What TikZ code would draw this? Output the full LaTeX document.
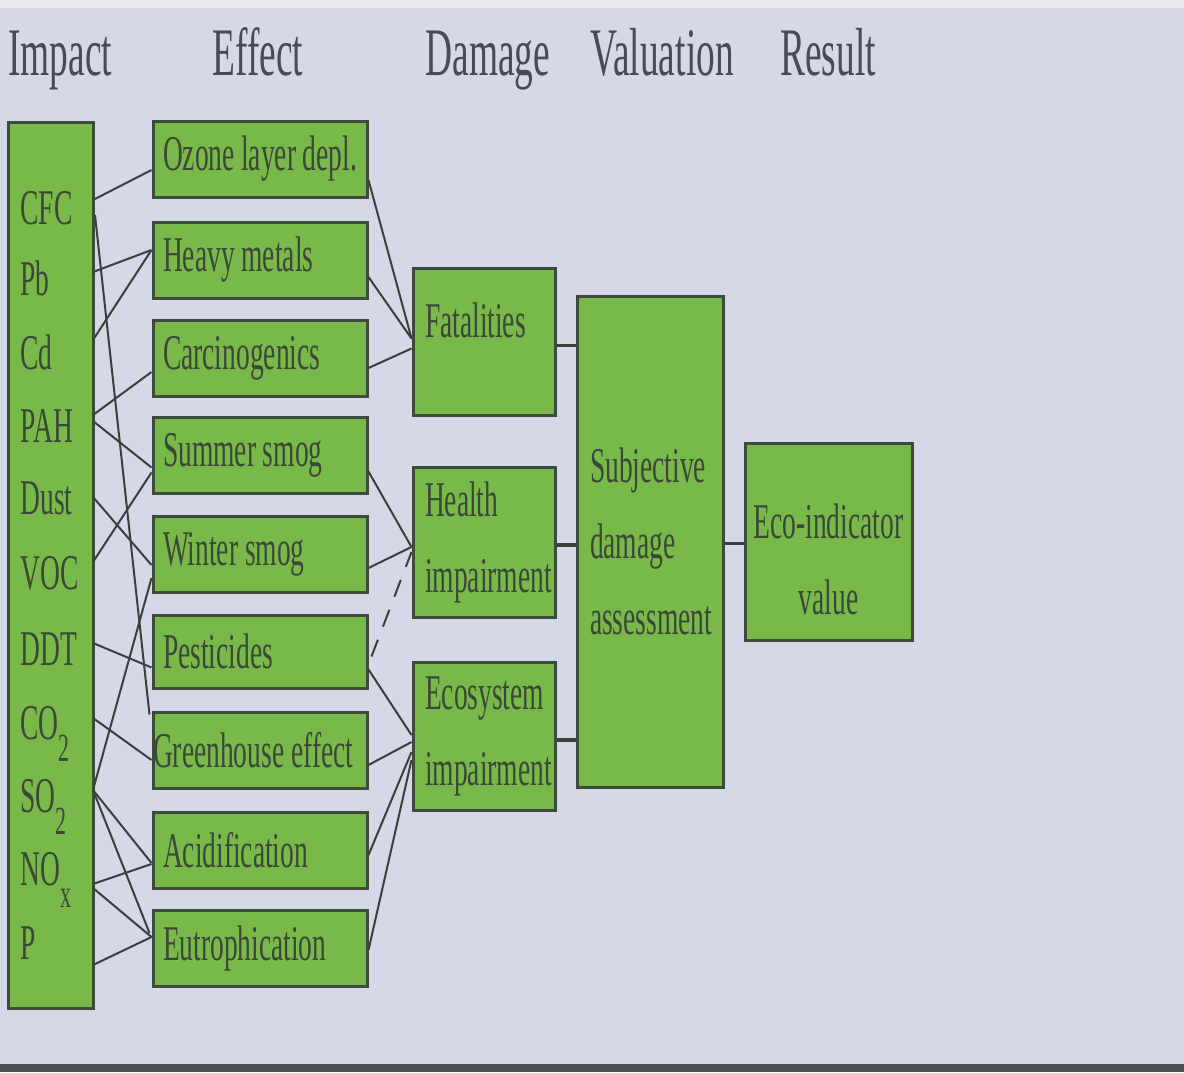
\documentclass[tikz,border=0pt]{standalone}
\usepackage{fontspec}
\setmainfont{Liberation Serif}[FakeStretch=0.55]
\usetikzlibrary{calc}
\definecolor{bg}{HTML}{D4D8E7}
\definecolor{topbg}{HTML}{E8EAF0}
\definecolor{boxfill}{HTML}{79B94A}
\definecolor{boxline}{HTML}{3E4A3B}
\definecolor{txt}{HTML}{3B4837}
\definecolor{ttl}{HTML}{474C52}
\definecolor{ln}{HTML}{3A403C}
\definecolor{band}{HTML}{4B504D}
\newcommand{\sbx}[1]{\raisebox{-11pt}{\fontsize{20}{20}\selectfont #1}}
\begin{document}
\begin{tikzpicture}[x=0.5pt,y=-0.5pt,
  box/.style={draw=boxline, fill=boxfill, line width=1.5pt, text=txt, inner sep=0pt,
    execute at begin node={\spaceskip=3.4pt plus 1pt minus 0.5pt\relax}},
  eff/.style={box, minimum height=38pt, text width=97pt, inner xsep=5pt, align=flush left,
    font=\fontsize{25}{30}\selectfont},
  dmg/.style={box, text width=59pt, inner xsep=6pt, align=flush left,
    font=\fontsize{25}{38}\selectfont},
  ttlst/.style={anchor=base west, text=ttl, inner sep=0pt, font=\fontsize{34}{40}\selectfont},
  imp/.style={anchor=base west, text=txt, inner sep=0pt, font=\fontsize{25}{30}\selectfont},
  conn/.style={draw=ln, line width=1pt},
  thick conn/.style={draw=ln, line width=1.8pt}
]
\path[use as bounding box] (0,0) rectangle (1184,1072);
\fill[bg] (0,0) rectangle (1184,1072);
\fill[topbg] (0,0) rectangle (1184,8);
\fill[band] (0,1064) rectangle (1184,1072);

% titles
\node[ttlst] (t1) at (8,75) {Impact};
\node[ttlst] (t2) at (212,75) {Effect};
\node[ttlst] (t3) at (425,75) {Damage};
\node[ttlst] (t4) at (590,75) {Valuation};
\node[ttlst] (t5) at (780,75) {Result};

% impact box
\node[box, minimum width=42.5pt, minimum height=443pt] (impbox) at (50.5,565) {};
\node[imp] (cfc) at (20,224) {CFC};
\node[imp] (pb) at (20,295) {Pb};
\node[imp] (cd) at (20,369) {Cd};
\node[imp] (pah) at (20,442) {PAH};
\node[imp] (dust) at (20,514) {Dust};
\node[imp] (voc) at (20,589) {VOC};
\node[imp] (ddt) at (20,665) {DDT};
\node[imp] (co) at (20,739) {CO\sbx{2}};
\node[imp] (so) at (20,812) {SO\sbx{2}};
\node[imp] (no) at (20,885) {NO\sbx{x}};
\node[imp] (p) at (20,959) {P};

% impact box edge points
\coordinate (cfcA) at (93,200);
\coordinate (cfcB) at (95,215);
\coordinate (pbA) at (93,272);
\coordinate (cdA) at (93,340);
\coordinate (pahA) at (93,415);
\coordinate (pahB) at (93,421);
\coordinate (dustA) at (93,497);
\coordinate (vocA) at (93,562);
\coordinate (ddtA) at (93,643);
\coordinate (coA) at (93,718);
\coordinate (soA) at (93,790);
\coordinate (noA) at (93,884);
\coordinate (noB) at (93,888);
\coordinate (pA) at (93,965);

% effect boxes
\node[eff] (oz) at (260,159) {Ozone layer depl.};
\node[eff] (hm) at (260,260) {Heavy metals};
\node[eff] (ca) at (260,358) {Carcinogenics};
\node[eff] (ss) at (260,455.5) {Summer smog};
\node[eff] (ws) at (260,554) {Winter smog};
\node[eff, minimum height=36.5pt] (pe) at (260,651.5) {Pesticides};
\node[eff, text width=107pt, inner xsep=0pt] (gh) at (260,750) {Greenhouse effect};
\node[eff] (ac) at (260,850) {Acidification};
\node[eff] (eu) at (260,948) {Eutrophication};

% damage boxes
\node[dmg, minimum height=73.5pt, text depth=21pt] (fat) at (484,341.5) {Fatalities};
\node[dmg, minimum height=75pt] (hi) at (484,542) {Health\\impairment};
\node[dmg, minimum height=74pt] (ei) at (484,736) {Ecosystem\\impairment};

% valuation
\node[box, minimum height=245.5pt, text width=60pt, inner xsep=6.5pt, align=flush left,
  font=\fontsize{25}{38}\selectfont] (sda) at (650,541.5) {Subjective\\damage\\assessment};

% result
\node[box, minimum height=98.5pt, text width=77.5pt, inner xsep=3pt, align=flush center,
  text height=35pt, font=\fontsize{25}{38}\selectfont] (eco) at (828.5,541.5) {Eco-indicator\\value};

% impact -> effect
\draw[conn] (cfcA) -- ($(oz.west)+(0,11)$);
\draw[conn] (cfcB) -- ($(gh.north west)+(-2,4)$);
\draw[conn] (pbA) -- ($(hm.west)+(0,-10)$);
\draw[conn] (cdA) -- ($(hm.west)+(0,-10)$);
\draw[conn] (pahA) -- ($(ca.west)+(0,14)$);
\draw[conn] (pahB) -- ($(ss.west)+(0,12)$);
\draw[conn] (dustA) -- ($(ws.west)+(0,11)$);
\draw[conn] (vocA) -- ($(ss.west)+(0,17)$);
\draw[conn] (ddtA) -- ($(pe.west)+(0,16)$);
\draw[conn] (coA) -- ($(gh.west)+(0,10)$);
\draw[conn] (soA) -- ($(ws.west)+(0,24)$);
\draw[conn] (soA) -- ($(ac.west)+(0,13)$);
\draw[conn] (soA) -- ($(eu.west)+(-2,-15)$);
\draw[conn] (noA) -- ($(ac.west)+(0,14)$);
\draw[conn] (noB) -- ($(eu.west)+(0,-11)$);
\draw[conn] (pA) -- ($(eu.west)+(0,-11)$);

% effect -> damage
\draw[conn] ($(oz.east)+(0,21)$) -- ($(fat.west)+(0,-3)$);
\draw[conn] ($(hm.east)+(0,17)$) -- ($(fat.west)+(0,-3)$);
\draw[conn] ($(ca.east)+(0,10)$) -- ($(fat.west)+(0,7)$);
\draw[conn] ($(ss.east)+(0,16)$) -- ($(hi.west)+(0,5)$);
\draw[conn] ($(ws.east)+(0,14)$) -- ($(hi.west)+(0,5)$);
\draw[conn, dash pattern=on 9pt off 7pt] ($(pe.east)+(3,5)$) -- ($(hi.west)+(0,10)$);
\draw[conn] ($(pe.east)+(0,18)$) -- ($(ei.west)+(0,-1)$);
\draw[conn] ($(gh.east)+(0,15)$) -- ($(ei.west)+(0,6)$);
\draw[conn] ($(ac.east)+(0,5)$) -- ($(ei.west)+(0,16)$);
\draw[conn] ($(eu.east)+(0,2)$) -- ($(ei.west)+(0,24)$);

% damage -> valuation -> result
\draw[thick conn] ($(fat.east)+(0,4)$) -- ($(fat.east -| sda.west)+(0,4)$);
\draw[thick conn] ($(hi.east)+(0,3)$) -- ($(hi.east -| sda.west)+(0,3)$);
\draw[thick conn] ($(ei.east)+(0,4)$) -- ($(ei.east -| sda.west)+(0,4)$);
\draw[thick conn] ($(sda.east)+(0,2)$) -- ($(sda.east -| eco.west)+(0,2)$);
\end{tikzpicture}
\end{document}
